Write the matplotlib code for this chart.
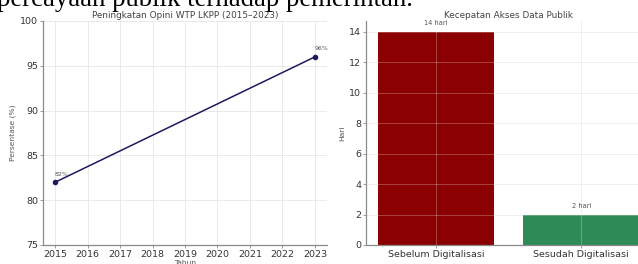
import matplotlib
matplotlib.use("Agg")
import matplotlib.pyplot as plt

years = [2015, 2023]
wtp_pct = [82, 96]
wtp_labels = ["82%", "96%"]

categories = ["Sebelum Digitalisasi", "Sesudah Digitalisasi"]
days = [14, 2]
day_labels = ["14 hari", "2 hari"]

W, H = 638, 264
fig = plt.figure(figsize=(W / 100, H / 100), dpi=100)
fig.patch.set_facecolor("white")

spine_c = "#8a8a8a"
tick_c = "#333333"
grid_c = "#e6e6e6"

def style(ax):
    for s in ["top", "right"]:
        ax.spines[s].set_visible(False)
    for s in ["left", "bottom"]:
        ax.spines[s].set_color(spine_c)
        ax.spines[s].set_linewidth(0.9)
    ax.tick_params(colors=spine_c, labelcolor=tick_c, labelsize=6.8, length=2, width=0.6, pad=1.5)

# left chart
ax1 = fig.add_axes([43 / W, 1 - 245 / H, (327 - 43) / W, 224 / H])
ax1.plot(years, wtp_pct, color="#1b1b5e", linewidth=1.1, marker="o", markersize=3)
for x, y, t in zip(years, wtp_pct, wtp_labels):
    ax1.annotate(t, (x, y), xytext=(0, 4), textcoords="offset points",
                 fontsize=4.5, color="#555555", ha="left", va="bottom")
ax1.set_xlim(2014.63, 2023.37)
ax1.set_ylim(75, 100)
ax1.set_xticks(range(2015, 2024))
ax1.set_yticks([75, 80, 85, 90, 95, 100])
ax1.grid(True, color=grid_c, linewidth=0.6)
ax1.set_axisbelow(True)
style(ax1)
ax1.set_title("Peningkatan Opini WTP LKPP (2015–2023)", fontsize=6.4, color="#444444", pad=2)
ax1.set_ylabel("Persentase (%)", fontsize=5.4, color="#555555", labelpad=3)
ax1.set_xlabel("Tahun", fontsize=5.4, color="#555555", labelpad=1)

# right chart
ax2 = fig.add_axes([366 / W, 1 - 245 / H, (651 - 366) / W, 224 / H])
bars = ax2.bar(categories, days, color=["#8b0000", "#2e8b57"], width=0.8, zorder=1)
for b, t in zip(bars, day_labels):
    ax2.annotate(t, (b.get_x() + b.get_width() / 2, b.get_height()), xytext=(0, 4),
                 textcoords="offset points", fontsize=4.8, color="#555555",
                 ha="center", va="bottom")
ax2.set_xlim(-0.48, 1.48)
ax2.set_ylim(0, 14.7)
ax2.set_yticks([0, 2, 4, 6, 8, 10, 12, 14])
ax2.grid(True, color="#ffffff", alpha=0.3, linewidth=0.6, zorder=2)
for yv in [2, 4, 6, 8, 10, 12, 14]:
    ax2.axhline(yv, color=grid_c, linewidth=0.6, zorder=0.5)
ax2.axvline(1, color=grid_c, linewidth=0.6, zorder=0.5)
style(ax2)
ax2.set_title("Kecepatan Akses Data Publik", fontsize=6.4, color="#444444", pad=2)
ax2.set_ylabel("Hari", fontsize=5.4, color="#555555", labelpad=3)

# document text cut at the top
fig.text(-3 / W, 1 - 6 / H, "percayaan publik terhadap pemerintah.", family="Liberation Serif",
         fontsize=19.3, color="black", ha="left", va="baseline")

fig.savefig("out.png", dpi=100, facecolor="white")
